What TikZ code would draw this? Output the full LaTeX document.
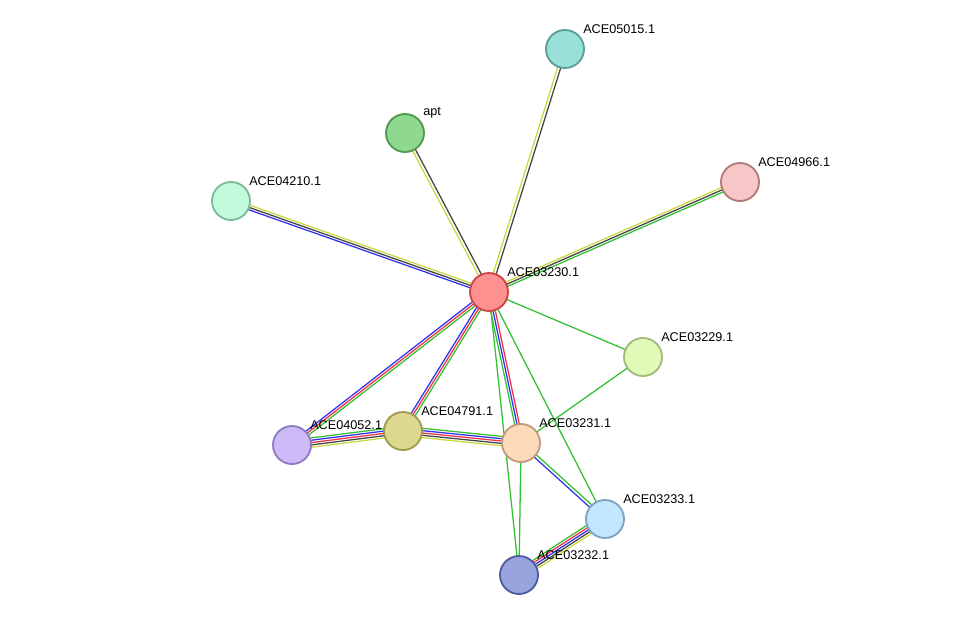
\documentclass[tikz,border=0pt]{standalone}
\usepackage{fontspec}
\setmainfont{Liberation Sans}
\usetikzlibrary{calc}
\definecolor{sgreen}{HTML}{33C033}
\definecolor{sblue}{HTML}{3333EE}
\definecolor{sred}{HTML}{EE3344}
\definecolor{syellow}{HTML}{C8D840}
\definecolor{sblack}{HTML}{444444}
\definecolor{f05015}{HTML}{99E0D8}\definecolor{d05015}{HTML}{5A9E96}
\definecolor{fapt}{HTML}{8FD88F}\definecolor{dapt}{HTML}{4F9A4F}
\definecolor{f04966}{HTML}{F7C7C7}\definecolor{d04966}{HTML}{B07B7B}
\definecolor{f04210}{HTML}{C2FADC}\definecolor{d04210}{HTML}{7DB89A}
\definecolor{f03230}{HTML}{FF9090}\definecolor{d03230}{HTML}{CC4444}
\definecolor{f03229}{HTML}{E2FAB8}\definecolor{d03229}{HTML}{A0BC7A}
\definecolor{f04052}{HTML}{CDBAF7}\definecolor{d04052}{HTML}{8C7CC0}
\definecolor{f04791}{HTML}{DCD890}\definecolor{d04791}{HTML}{9E9A50}
\definecolor{f03231}{HTML}{FDDABA}\definecolor{d03231}{HTML}{C09A7A}
\definecolor{f03233}{HTML}{C3E7FD}\definecolor{d03233}{HTML}{7FA2C0}
\definecolor{f03232}{HTML}{98A4DD}\definecolor{d03232}{HTML}{4F5B9E}
\tikzset{
  prot/.style={circle, minimum size=0.95cm, line width=1.3pt, inner sep=0pt, fill=f#1, draw=d#1},
  plabel/.style={anchor=south west, inner sep=0pt, font=\fontsize{9}{10}\selectfont}
}
% parallel edge lines, colour/offset pairs
\newcommand\sedge[3]{%
  \foreach \c/\o in {#3} {
    \draw[\c, line width=0.9pt] ($(#1)!{\o*1.1pt}!90:(#2)$) -- ($(#2)!{\o*1.1pt}!-90:(#1)$);
  }}
\begin{document}
\begin{tikzpicture}[x=0.025cm,y=-0.025cm]
  \useasboundingbox (0,0) rectangle (975,621);
  \coordinate (c05015) at (565,49);
  \coordinate (capt) at (405,133);
  \coordinate (c04966) at (740,182);
  \coordinate (c04210) at (231,201);
  \coordinate (c03230) at (489,292);
  \coordinate (c03229) at (643,357);
  \coordinate (c04052) at (292,445);
  \coordinate (c04791) at (403,431);
  \coordinate (c03231) at (521,443);
  \coordinate (c03233) at (605,519);
  \coordinate (c03232) at (519,575);

  % edges
  \sedge{c03230}{c05015}{sblack/-1,syellow/1}
  \sedge{c03230}{capt}{sblack/-1,syellow/1}
  \sedge{c03230}{c04966}{sgreen/-1.5,sblack/0,syellow/1.5}
  \sedge{c03230}{c04210}{syellow/-1.5,sblack/0,sblue/1.5}
  \sedge{c03230}{c03229}{sgreen/0}
  \sedge{c03230}{c04052}{sblue/-1.5,sred/0,sgreen/1.5}
  \sedge{c03230}{c04791}{sblue/-1.5,sred/0,sgreen/1.5}
  \sedge{c03230}{c03231}{sgreen/-1.5,sblue/0,sred/1.5}
  \sedge{c03230}{c03233}{sgreen/0}
  \sedge{c03230}{c03232}{sgreen/0}
  \sedge{c03229}{c03231}{sgreen/0}
  \sedge{c04052}{c04791}{syellow/-3,sblack/-1.5,sred/0,sblue/1.5,sgreen/3}
  \sedge{c04791}{c03231}{syellow/-3,sblack/-1.5,sred/0,sblue/1.5,sgreen/3}
  \sedge{c03231}{c03233}{sblue/-1,sgreen/1}
  \sedge{c03231}{c03232}{sgreen/0}
  \sedge{c03233}{c03232}{sgreen/-3,sred/-1.5,sblue/0,sblack/1.5,syellow/3}

  % proteins
  \node[prot=05015] (n05015) at (c05015) {};
  \node[prot=apt] (napt) at (capt) {};
  \node[prot=04966] (n04966) at (c04966) {};
  \node[prot=04210] (n04210) at (c04210) {};
  \node[prot=03230] (n03230) at (c03230) {};
  \node[prot=03229] (n03229) at (c03229) {};
  \node[prot=04052] (n04052) at (c04052) {};
  \node[prot=04791] (n04791) at (c04791) {};
  \node[prot=03231] (n03231) at (c03231) {};
  \node[prot=03233] (n03233) at (c03233) {};
  \node[prot=03232] (n03232) at (c03232) {};

  % labels
  \node[plabel] (l05015) at ($(c05015)+(18,-15)$) {ACE05015.1};
  \node[plabel] (lapt) at ($(capt)+(18,-15)$) {apt};
  \node[plabel] (l04966) at ($(c04966)+(18,-15)$) {ACE04966.1};
  \node[plabel] (l04210) at ($(c04210)+(18,-15)$) {ACE04210.1};
  \node[plabel] (l03230) at ($(c03230)+(18,-15)$) {ACE03230.1};
  \node[plabel] (l03229) at ($(c03229)+(18,-15)$) {ACE03229.1};
  \node[plabel] (l04052) at ($(c04052)+(18,-15)$) {ACE04052.1};
  \node[plabel] (l04791) at ($(c04791)+(18,-15)$) {ACE04791.1};
  \node[plabel] (l03231) at ($(c03231)+(18,-15)$) {ACE03231.1};
  \node[plabel] (l03233) at ($(c03233)+(18,-15)$) {ACE03233.1};
  \node[plabel] (l03232) at ($(c03232)+(18,-15)$) {ACE03232.1};
\end{tikzpicture}
\end{document}
